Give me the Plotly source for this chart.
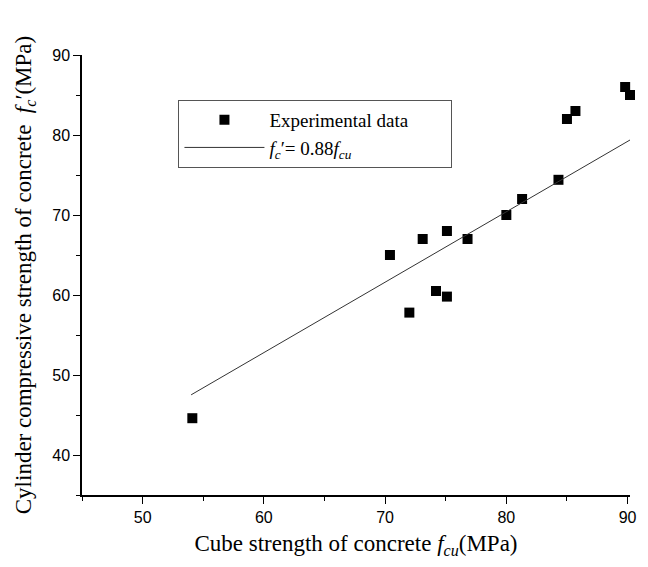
import plotly.graph_objects as go

# Data
cube_strength = [54.1, 70.4, 72.0, 73.1, 74.2, 75.1, 75.1, 76.8, 80.0, 81.3, 84.3, 85.0, 85.7, 89.8, 90.2]
cylinder_strength = [44.6, 65.0, 57.8, 67.0, 60.5, 68.0, 59.8, 67.0, 70.0, 72.0, 74.4, 82.0, 83.0, 86.0, 85.0]
fit_coef = 0.88
fit_x = [54.0, 90.2]
fit_y = [fit_coef * v for v in fit_x]

x_ticks = [50, 60, 70, 80, 90]
y_ticks = [40, 50, 60, 70, 80, 90]

fig = go.Figure()
fig.add_trace(go.Scatter(
    x=cube_strength, y=cylinder_strength, mode="markers",
    marker=dict(symbol="square", size=10, color="black"),
    name="Experimental data" + "\u00a0" * 8, cliponaxis=False))
fig.add_trace(go.Scatter(
    x=fit_x, y=fit_y, mode="lines",
    line=dict(color="#333333", width=1),
    name="<i>f<sub>c</sub></i>′= 0.88<i>f<sub>cu</sub></i>", cliponaxis=False))

axis_common = dict(
    showline=True, linecolor="black", linewidth=1.5,
    ticks="outside", ticklen=7, tickwidth=1.2, tickcolor="black",
    showgrid=False, zeroline=False,
    tickfont=dict(family="Liberation Sans, Arial", size=16, color="black"),
    minor=dict(ticks="outside", ticklen=4, tickcolor="black", dtick=5, showgrid=False),
)

fig.update_xaxes(range=[45, 90.2], tickvals=x_ticks, **axis_common,
                 title=dict(text="Cube strength of concrete <i>f<sub>cu</sub></i>(MPa)",
                            font=dict(family="Liberation Serif, Times New Roman", size=23, color="black"),
                            standoff=10))
fig.update_yaxes(range=[35, 90], tickvals=y_ticks, **axis_common,
                 title=dict(text="Cylinder compressive strength of concrete  <i>f<sub>c</sub></i>′(MPa)",
                            font=dict(family="Liberation Serif, Times New Roman", size=23, color="black"),
                            standoff=14))

fig.update_layout(
    width=648, height=567,
    margin=dict(l=82, r=18, t=55, b=72),
    plot_bgcolor="white", paper_bgcolor="white",
    legend=dict(x=0.176, y=0.898, xanchor="left", yanchor="top",
                bordercolor="#555555", borderwidth=1, bgcolor="white",
                font=dict(family="Liberation Serif, Times New Roman", size=19, color="black"),
                itemwidth=80, tracegroupgap=0),
    showlegend=True,
)

fig.write_html("out.html")
